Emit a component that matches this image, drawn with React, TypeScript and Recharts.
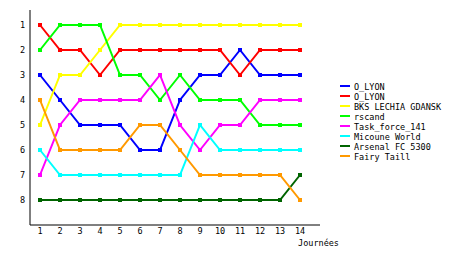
import React from 'react';
import { LineChart, Line, XAxis, YAxis } from 'recharts';

const days = [1, 2, 3, 4, 5, 6, 7, 8, 9, 10, 11, 12, 13, 14];
const rankTicks = [1, 2, 3, 4, 5, 6, 7, 8];

const olyonA = [3, 4, 5, 5, 5, 6, 6, 4, 3, 3, 2, 3, 3, 3];
const olyonB = [1, 2, 2, 3, 2, 2, 2, 2, 2, 2, 3, 2, 2, 2];
const bks = [5, 3, 3, 2, 1, 1, 1, 1, 1, 1, 1, 1, 1, 1];
const rscand = [2, 1, 1, 1, 3, 3, 4, 3, 4, 4, 4, 5, 5, 5];
const taskForce = [7, 5, 4, 4, 4, 4, 3, 5, 6, 5, 5, 4, 4, 4];
const micoune = [6, 7, 7, 7, 7, 7, 7, 7, 5, 6, 6, 6, 6, 6];
const arsenal = [8, 8, 8, 8, 8, 8, 8, 8, 8, 8, 8, 8, 8, 7];
const fairy = [4, 6, 6, 6, 6, 5, 5, 6, 7, 7, 7, 7, 7, 8];

const seriesNames = ['O_LYON', 'O_LYON', 'BKS LECHIA GDANSK', 'rscand', 'Task_force_141', 'Micoune World', 'Arsenal FC 5300', 'Fairy Taill'];
const seriesValues = [olyonA, olyonB, bks, rscand, taskForce, micoune, arsenal, fairy];
const seriesColors = ['#0000ff', '#ff0000', '#ffff00', '#00ff00', '#ff00ff', '#00ffff', '#006400', '#ff9900'];

const data = days.map((d, i) => {
  const row: Record<string, number> = { day: d };
  seriesValues.forEach((vals, s) => {
    row['s' + s] = vals[i];
  });
  return row;
});

const FONT = '"DejaVu Sans Mono", monospace';

const makeDot = (color: string) => (props: any) => {
  const { cx, cy, index } = props;
  if (cx == null || cy == null) return <g key={index} />;
  return <rect key={index} x={cx - 2} y={cy - 2} width={4} height={4} fill={color} />;
};

const LegendBox = () => (
  <div style={{ position: 'absolute', left: 340, top: 81, fontFamily: FONT, fontSize: 8.5, color: '#000' }}>
    {seriesNames.map((n, i) => (
      <div key={i} style={{ height: 10, position: 'relative', whiteSpace: 'nowrap', width: 120 }}>
        <span style={{ position: 'absolute', left: 0, top: 4, width: 10, height: 2, background: seriesColors[i] }} />
        <span style={{ position: 'absolute', left: 14, top: 0, lineHeight: '12px' }}>{n}</span>
      </div>
    ))}
  </div>
);

const JourneesLabel = (props: any) => {
  const vb = props.viewBox || {};
  const x = (vb.x || 0) + (vb.width || 0) + 19;
  const y = (vb.y || 0) + 21;
  return (
    <text x={x} y={y} textAnchor="end" fontFamily={FONT} fontSize={8.5} fill="#000">
      Journées
    </text>
  );
};

export default function App() {
  return (
    <div style={{ position: 'absolute', left: 0, top: 0, width: 460, height: 255, background: '#fff' }}>
      <LineChart width={460} height={255} data={data} margin={{ top: 10, right: 140, bottom: 0, left: 0 }}>
        <XAxis
          dataKey="day"
          type="number"
          domain={[0.5, 15]}
          ticks={days}
          allowDataOverflow
          height={30}
          tickSize={0}
          tickMargin={3}
          axisLine={{ stroke: '#000', strokeWidth: 1 }}
          tickLine={false}
          tick={{ fontFamily: FONT, fontSize: 8.5, fill: '#000' }}
          interval={0}
          label={<JourneesLabel />}
        />
        <YAxis
          type="number"
          domain={[0.4, 9]}
          reversed
          ticks={rankTicks}
          allowDataOverflow
          width={30}
          tickSize={0}
          tickMargin={5}
          axisLine={{ stroke: '#000', strokeWidth: 1 }}
          tickLine={false}
          tick={{ fontFamily: FONT, fontSize: 8.5, fill: '#000' }}
          interval={0}
        />
        {seriesNames.map((n, i) => (
          <Line
            key={i}
            type="linear"
            dataKey={'s' + i}
            name={n}
            stroke={seriesColors[i]}
            strokeWidth={2}
            dot={makeDot(seriesColors[i])}
            activeDot={false}
            isAnimationActive={false}
          />
        ))}
      </LineChart>
      <LegendBox />
    </div>
  );
}
